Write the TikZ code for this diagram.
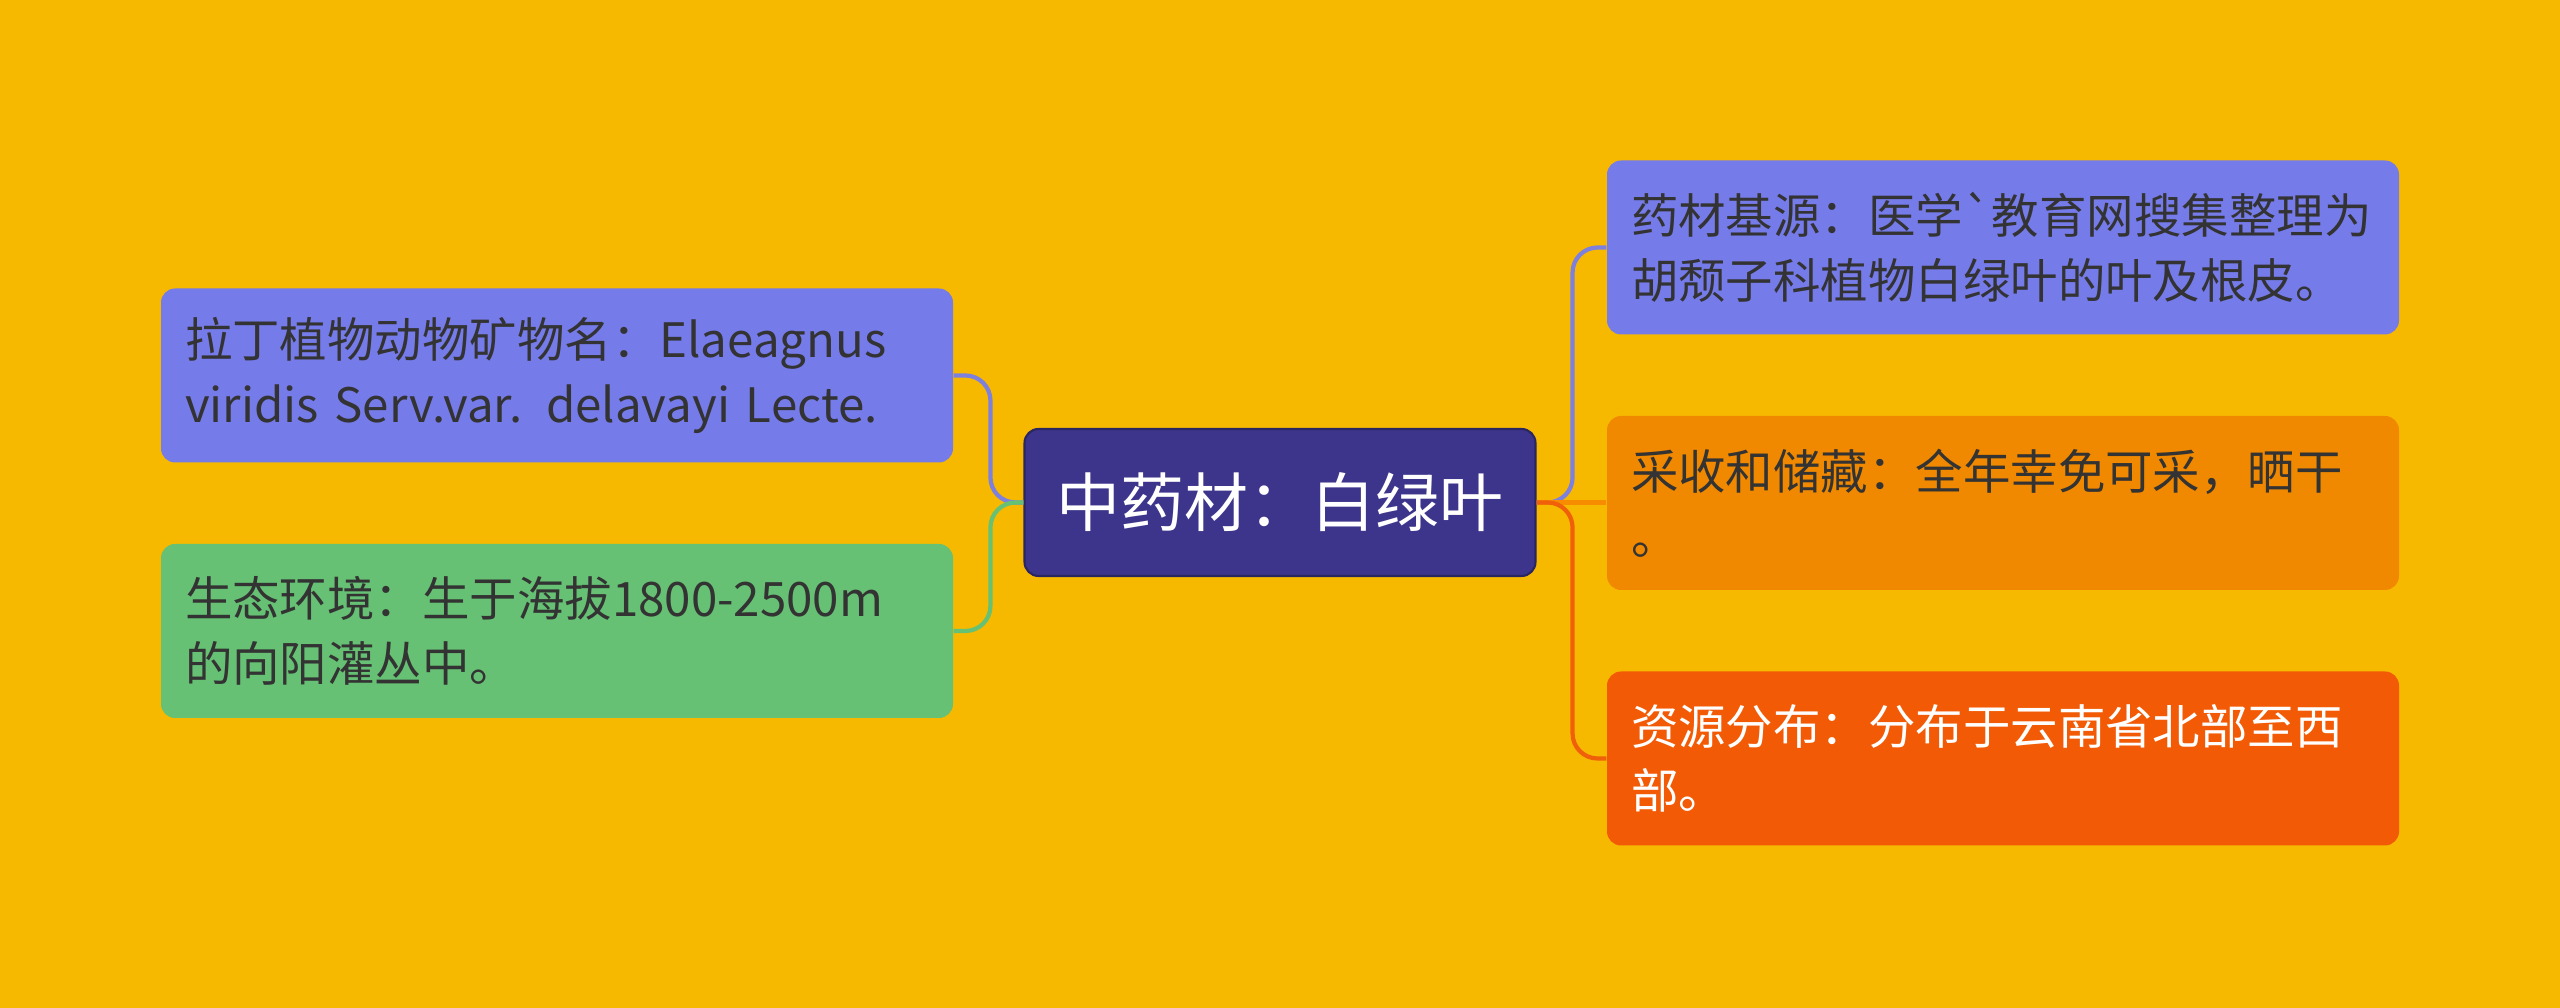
\documentclass[tikz,border=0pt]{standalone}
\usepackage{fontspec}
\newfontfamily\cjk{Noto Sans CJK SC}
\usetikzlibrary{positioning}
\definecolor{bgyellow}{RGB}{246,185,0}
\definecolor{rootpurple}{RGB}{61,53,139}
\definecolor{leafblue}{RGB}{118,123,234}
\definecolor{leafgreen}{RGB}{102,193,116}
\definecolor{leaforange}{RGB}{240,136,0}
\definecolor{leafred}{RGB}{242,90,5}
\definecolor{textdark}{RGB}{51,51,51}
\definecolor{linkblue}{RGB}{125,128,220}
\definecolor{linkgreen}{RGB}{102,193,116}
\definecolor{linkorange}{RGB}{248,140,0}
\definecolor{linkred}{RGB}{240,95,10}
\tikzset{
  box/.style={rectangle, rounded corners=4pt, minimum width=7.92cm, minimum height=1.74cm, text width=7.44cm, align=left, inner sep=0pt, font=\cjk\fontsize{13.5}{18.4}\selectfont, text=textdark},
  bluebox/.style={box, fill=leafblue},
  greenbox/.style={box, fill=leafgreen},
  orangebox/.style={box, fill=leaforange},
  redbox/.style={box, fill=leafred, text=white},
  rootbox/.style={rectangle, rounded corners=4pt, fill=rootpurple, draw=rootpurple!70!black, line width=0.6pt, minimum width=5.11cm, minimum height=1.47cm, align=center, font=\cjk\fontsize{18.2}{22}\selectfont, text=white},
  link/.style={line width=1.2pt, rounded corners=0.25cm},
}

\begin{document}
\begin{tikzpicture}
  \useasboundingbox[fill=bgyellow] (0,0) rectangle (25.6,10.08);

  % Root
  \node[rootbox] (root) at (12.80,5.055) {中药材：白绿叶};

  % Left branches
  \node[bluebox] (latin) at (5.57,6.325) {拉丁植物动物矿物名：Elaeagnus\\viridis Serv.var. delavayi Lecte.};
  \node[greenbox] (habitat) at (5.57,3.77) {生态环境：生于海拔1800-2500m\\的向阳灌丛中。};

  % Right branches
  \node[bluebox] (origin) at (20.03,7.605) {药材基源：医学\textasciigrave 教育网搜集整理为\\胡颓子科植物白绿叶的叶及根皮。};
  \node[orangebox] (harvest) at (20.03,5.05) {采收和储藏：全年幸免可采，晒干\\。};
  \node[redbox] (spread) at (20.03,2.495) {资源分布：分布于云南省北部至西\\部。};

  % Connectors
  \draw[link, linkblue] (root.west) -- ++(-0.33,0) |- (latin.east);
  \draw[link, linkgreen] (root.west) -- ++(-0.33,0) |- (habitat.east);
  \draw[link, linkblue] (root.east) -- ++(0.36,0) |- (origin.west);
  \draw[link, linkorange] (root.east) -- (root.east -| harvest.west);
  \draw[link, linkred] (root.east) -- ++(0.36,0) |- (spread.west);

\end{tikzpicture}
\end{document}
